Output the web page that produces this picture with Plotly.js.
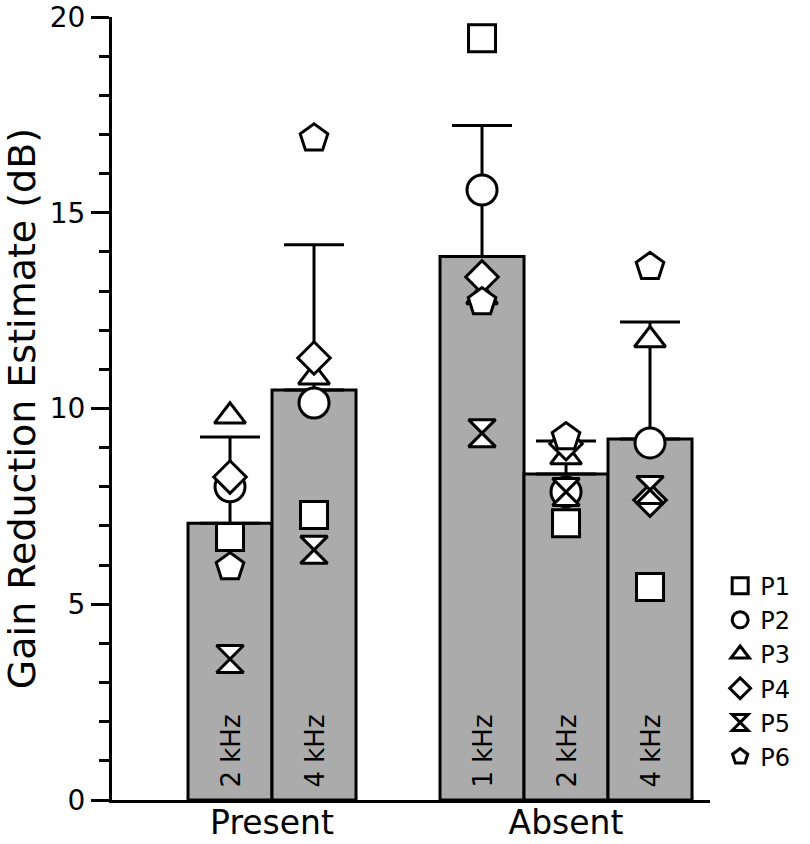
<!DOCTYPE html>
<html>
<head>
<meta charset="utf-8">
<script src="https://cdn.plot.ly/plotly-3.0.1.min.js"></script>
<style>html,body{margin:0;padding:0;background:#fff;}</style>
</head>
<body>
<div id="chart" style="width:810px;height:844px;"></div>
<script>
// ---- data ----
const groups = ['Present', 'Absent'];
const presentFreqs = ['2 kHz', '4 kHz'];
const absentFreqs = ['1 kHz', '2 kHz', '4 kHz'];
const meanGain = [7.07, 10.47, 13.88, 8.33, 9.22];
const sdGain = [2.20, 3.71, 3.35, 0.84, 2.99];
const participants = ['P1', 'P2', 'P3', 'P4', 'P5', 'P6'];
const P1 = [6.72, 7.28, 19.46, 7.07, 5.44];
const P2 = [8.00, 10.14, 15.58, 7.87, 9.12];
const P3 = [9.80, 10.80, 12.85, 8.76, 11.75];
const P4 = [8.25, 11.29, 13.36, 9.10, 7.66];
const P5 = [3.60, 6.39, 9.37, 7.87, 7.92];
const P6 = [5.95, 16.90, 12.72, 9.27, 13.62];
const yTicks = [0, 5, 10, 15, 20];

// ---- build positions: groups separated by one empty slot ----
const freqLabels = presentFreqs.concat(absentFreqs);
const pos = presentFreqs.map((_, i) => i).concat(absentFreqs.map((_, i) => presentFreqs.length + 1 + i));
const groupCenters = [
  (pos[0] + pos[presentFreqs.length - 1]) / 2,
  (pos[presentFreqs.length] + pos[pos.length - 1]) / 2
];

const FONT = 'DejaVu Sans, sans-serif';
const traces = [];
traces.push({
  type: 'bar',
  x: pos,
  y: meanGain,
  width: 1,
  marker: {color: '#ababab', line: {color: '#000', width: 3}},
  error_y: {type: 'data', symmetric: false, array: sdGain, arrayminus: sdGain.map(() => 0),
            color: '#000', thickness: 3, width: 30},
  showlegend: false,
  hoverinfo: 'skip'
});

const series = [P1, P2, P3, P4, P5, P6];
const symbols = ['square', 'circle', 'triangle-up', 'diamond', 'hourglass', 'pentagon'];
const sizes = [27, 30, 27, 25, 27, 29];
series.forEach((vals, k) => {
  traces.push({
    type: 'scatter',
    mode: 'markers',
    x: pos,
    y: vals,
    name: participants[k],
    marker: {symbol: symbols[k], size: sizes[k], color: '#fff', line: {color: '#000', width: 3}},
    cliponaxis: false
  });
});

const annotations = freqLabels.map((t, i) => ({
  x: pos[i], y: 0, xref: 'x', yref: 'y',
  text: t, showarrow: false, textangle: -90,
  xanchor: 'center', yanchor: 'bottom', yshift: 10,
  font: {family: FONT, size: 26, color: '#000'}
}));

const layout = {
  width: 810,
  height: 844,
  margin: {l: 112, r: 100, t: 17, b: 44},
  paper_bgcolor: '#fff',
  plot_bgcolor: '#fff',
  font: {family: FONT, color: '#000'},
  bargap: 0,
  annotations: annotations,
  xaxis: {
    range: [-1.405, 5.714],
    tickvals: groupCenters,
    ticktext: groups,
    ticks: '',
    showgrid: false,
    zeroline: false,
    showline: true,
    linecolor: '#000',
    linewidth: 3,
    tickfont: {family: FONT, size: 33, color: '#000'},
    ticklabelstandoff: -9,
    ticklabeloverflow: 'allow',
    fixedrange: true
  },
  yaxis: {
    range: [0, 20],
    tickvals: yTicks,
    ticks: 'outside',
    ticklen: 18,
    tickwidth: 3,
    tickcolor: '#000',
    minor: {dtick: 1, ticks: 'outside', ticklen: 10, tickwidth: 3, tickcolor: '#000', showgrid: false},
    showgrid: false,
    zeroline: false,
    showline: true,
    linecolor: '#000',
    linewidth: 3,
    tickfont: {family: FONT, size: 28, color: '#000'},
    ticklabeloverflow: 'allow',
    title: {text: 'Gain Reduction Estimate (dB)', font: {family: FONT, size: 38, color: '#000'}, standoff: 10},
    fixedrange: true
  },
  legend: {
    x: 1.017, xanchor: 'left',
    y: 0.302, yanchor: 'top',
    font: {family: FONT, size: 24, color: '#000'},
    bgcolor: 'rgba(0,0,0,0)',
    itemclick: false
  },
  showlegend: true
};

Plotly.newPlot('chart', traces, layout, {displayModeBar: false, staticPlot: true});
</script>
</body>
</html>
